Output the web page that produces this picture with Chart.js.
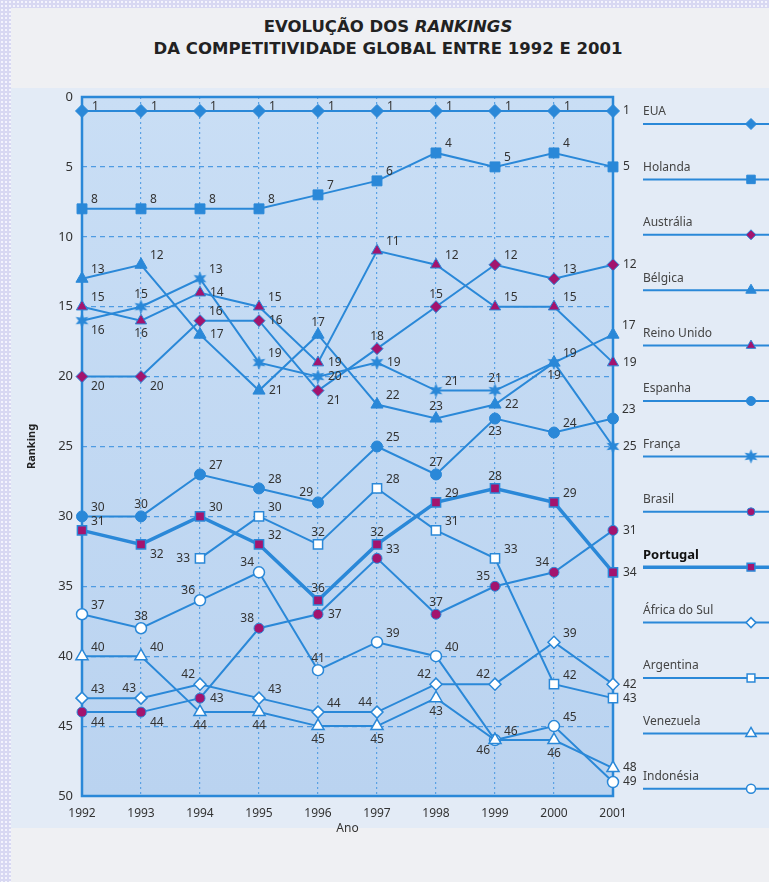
<!DOCTYPE html>
<html>
<head>
<meta charset="utf-8">
<script src="https://cdn.jsdelivr.net/npm/chart.js@4.4.0/dist/chart.umd.min.js"></script>
<style>
  html, body { margin: 0; padding: 0; }
  body {
    width: 769px; height: 882px; overflow: hidden; position: relative;
    background-color: #d8d8f2;
    background-image: radial-gradient(#f4f4fd 1px, transparent 1.3px);
    background-size: 4px 4px;
    font-family: "Noto Sans", sans-serif;
  }
  .page { position: absolute; left: 11px; top: 8px; right: 0; bottom: 0; background: #eff0f3; }
  .panel { position: absolute; left: 11px; top: 88px; right: 0; height: 740px; background: #e3ebf6; }
  h1 {
    position: absolute; top: 16px; left: 0; width: 776px; margin: 0;
    text-align: center; font-family: "DejaVu Sans", sans-serif;
    font-size: 16.5px; line-height: 22px; font-weight: bold; color: #222;
  }
  canvas { position: absolute; left: 0; top: 0; }
</style>
</head>
<body>
<div class="page"></div>
<div class="panel"></div>
<h1>EVOLUÇÃO DOS <i>RANKINGS</i><br>DA COMPETITIVIDADE GLOBAL ENTRE 1992 E 2001</h1>
<canvas id="rankChart" width="769" height="882"></canvas>
<script>
// dados (ranking por ano)
const anos = ['1992', '1993', '1994', '1995', '1996', '1997', '1998', '1999', '2000', '2001'];
const paises = ['EUA', 'Holanda', 'Austrália', 'Bélgica', 'Reino Unido', 'Espanha', 'França',
                'Brasil', 'Portugal', 'África do Sul', 'Argentina', 'Venezuela', 'Indonésia'];
const eua        = [1, 1, 1, 1, 1, 1, 1, 1, 1, 1];
const holanda    = [8, 8, 8, 8, 7, 6, 4, 5, 4, 5];
const australia  = [20, 20, 16, 16, 21, 18, 15, 12, 13, 12];
const belgica    = [13, 12, 17, 21, 17, 22, 23, 22, 19, 17];
const reinoUnido = [15, 16, 14, 15, 19, 11, 12, 15, 15, 19];
const espanha    = [30, 30, 27, 28, 29, 25, 27, 23, 24, 23];
const franca     = [16, 15, 13, 19, 20, 19, 21, 21, 19, 25];
const brasil     = [44, 44, 43, 38, 37, 33, 37, 35, 34, 31];
const portugal   = [31, 32, 30, 32, 36, 32, 29, 28, 29, 34];
const africaSul  = [43, 43, 42, 43, 44, 44, 42, 42, 39, 42];
const argentina  = [null, null, 33, 30, 32, 28, 31, 33, 42, 43];
const venezuela  = [40, 40, 44, 44, 45, 45, 43, 46, 46, 48];
const indonesia  = [37, 38, 36, 34, 41, 39, 40, 46, 45, 49];
const yTicks = [0, 5, 10, 15, 20, 25, 30, 35, 40, 45, 50];

const series = [eua, holanda, australia, belgica, reinoUnido, espanha, franca,
                brasil, portugal, africaSul, argentina, venezuela, indonesia];

const AZUL = '#2a88d8';
const MAGENTA = '#a3146e';

// estrela de 6 pontas para a França
function makeStar() {
    const c = document.createElement('canvas');
    c.width = 15; c.height = 15;
    const g = c.getContext('2d');
    g.fillStyle = AZUL;
    g.beginPath();
    for (let i = 0; i < 12; i++) {
        const r = i % 2 === 0 ? 7.3 : 3.4;
        const a = -Math.PI / 2 + i * Math.PI / 6;
        g.lineTo(7.5 + r * Math.cos(a), 7.5 + r * Math.sin(a));
    }
    g.closePath();
    g.fill();
    return c;
}
const star = makeStar();

// estilo dos marcadores
const estilos = [
    { ps: 'rectRot', r: 6.5, fill: AZUL, bw: 1 },
    { ps: 'rect', r: 7, fill: AZUL, bw: 1 },
    { ps: 'rectRot', r: 6, fill: MAGENTA, bw: 1 },
    { ps: 'triangle', r: 7, fill: AZUL, bw: 1 },
    { ps: 'triangle', r: 6.5, fill: MAGENTA, bw: 1 },
    { ps: 'circle', r: 5.5, fill: AZUL, bw: 1 },
    { ps: star, r: 7, fill: AZUL, bw: 0 },
    { ps: 'circle', r: 5, fill: MAGENTA, bw: 1 },
    { ps: 'rect', r: 6.5, fill: MAGENTA, bw: 1.5, lw: 3.5 },
    { ps: 'rectRot', r: 6, fill: '#ffffff', bw: 1.5 },
    { ps: 'rect', r: 6.5, fill: '#ffffff', bw: 1.5 },
    { ps: 'triangle', r: 7, fill: '#ffffff', bw: 1.5 },
    { ps: 'circle', r: 5.5, fill: '#ffffff', bw: 1.5 }
];

// posição dos rótulos de valor (ar = acima-direita, b = abaixo, l = esquerda ...)
const posRotulos = [
    ['ur','ur','ur','ur','ur','ur','ur','ur','ur','r'],
    ['ar','ar','ar','ar','ar','ar','ar','ar','ar','r'],
    ['br','br','ar','r','br','a','a','ar','ar','r'],
    ['ar','ar','r','r','a','ar','a','r','b','ar'],
    ['ar','b','r','ar','r','ar','ar','ar','ar','r'],
    ['ar','a','ar','ar','al','ar','a','b','ar','ar'],
    ['br','a','ar','ar','r','r','ar','a','ar','r'],
    ['br','br','r','al','r','ar','a','al','al','r'],
    ['ar','br','ar','ar','a','a','ar','a','ar','r'],
    ['ar','al','al','ar','ar','al','al','al','ar','r'],
    [null,null,'l','ar','a','ar','ar','ar','ar','r'],
    ['ar','ar','b','b','b','b','b','ar','b','r'],
    ['ar','a','al','al','a','ar','ar','bl','ar','r']
];
const offsets = {
    ur: [10, -4, 'left'],
    ar: [9, -9, 'left'], a: [0, -12, 'center'], al: [-5, -10, 'right'],
    r: [10, 0, 'left'], br: [9, 10, 'left'], b: [0, 13, 'center'],
    bl: [-5, 10, 'right'], l: [-10, 0, 'right']
};

// fundo da área do gráfico + moldura
const fundoPlugin = {
    id: 'fundo',
    beforeDraw(chart) {
        const { ctx, chartArea: a } = chart;
        const grad = ctx.createLinearGradient(0, a.top, 0, a.bottom);
        grad.addColorStop(0, '#c9def5');
        grad.addColorStop(1, '#bad3f0');
        ctx.save();
        ctx.fillStyle = grad;
        ctx.fillRect(a.left, a.top, a.right - a.left, a.bottom - a.top);
        ctx.restore();
    },
    beforeDatasetsDraw(chart) {
        const { ctx, chartArea: a } = chart;
        ctx.save();
        ctx.strokeStyle = AZUL;
        ctx.lineWidth = 2.5;
        ctx.strokeRect(a.left, a.top, a.right - a.left, a.bottom - a.top);
        ctx.restore();
    }
};

// números junto a cada ponto
const rotulosPlugin = {
    id: 'rotulos',
    afterDatasetsDraw(chart) {
        const ctx = chart.ctx;
        ctx.save();
        ctx.font = '12px "Noto Sans", sans-serif';
        ctx.fillStyle = '#333';
        ctx.textBaseline = 'middle';
        chart.data.datasets.forEach((ds, i) => {
            const meta = chart.getDatasetMeta(i);
            meta.data.forEach((pt, j) => {
                const v = ds.data[j];
                const code = posRotulos[i][j];
                if (v === null || !code) return;
                const [dx, dy, align] = offsets[code];
                ctx.textAlign = align;
                ctx.fillText(String(v), pt.x + dx, pt.y + dy);
            });
        });
        ctx.restore();
    }
};

// legenda à direita
const legendaPlugin = {
    id: 'legenda',
    afterDraw(chart) {
        const ctx = chart.ctx;
        ctx.save();
        chart.data.datasets.forEach((ds, i) => {
            const st = estilos[i];
            const y = 124 + i * 55.4;
            ctx.strokeStyle = AZUL;
            ctx.lineWidth = st.lw || 2;
            ctx.beginPath();
            ctx.moveTo(643, y);
            ctx.lineTo(769, y);
            ctx.stroke();
            ctx.fillStyle = st.fill;
            ctx.strokeStyle = AZUL;
            ctx.lineWidth = st.bw;
            Chart.helpers.drawPoint(ctx, { pointStyle: st.ps, radius: st.r - 1, rotation: 0, borderWidth: st.bw }, 751, y);
            const bold = ds.label === 'Portugal';
            ctx.font = (bold ? 'bold 13px' : '12px') + ' "Noto Sans", sans-serif';
            ctx.fillStyle = bold ? '#111' : '#444';
            ctx.textAlign = 'left';
            ctx.textBaseline = 'middle';
            ctx.fillText(ds.label, 643, y - 12);
        });
        ctx.restore();
    }
};

const datasets = series.map((vals, i) => ({
    label: paises[i],
    data: vals,
    borderColor: AZUL,
    borderWidth: estilos[i].lw || 2,
    pointStyle: estilos[i].ps,
    pointRadius: estilos[i].r,
    pointBackgroundColor: estilos[i].fill,
    pointBorderColor: AZUL,
    pointBorderWidth: estilos[i].bw,
    tension: 0,
    spanGaps: false
}));

const ctx = document.getElementById('rankChart').getContext('2d');
new Chart(ctx, {
    type: 'line',
    data: { labels: anos, datasets: datasets },
    plugins: [fundoPlugin, rotulosPlugin, legendaPlugin],
    options: {
        responsive: false,
        animation: false,
        layout: { padding: { left: 25, right: 156, top: 97, bottom: 46 } },
        plugins: {
            legend: { display: false },
            tooltip: { enabled: false }
        },
        scales: {
            x: {
                offset: false,
                afterFit(scale) { scale.height = 40; },
                grid: {
                    drawTicks: false,
                    lineWidth: 1.2,
                    color: (c) => (c.index === 0 || c.index === anos.length - 1) ? 'rgba(0,0,0,0)' : '#5aa2e4'
                },
                border: { display: false, dash: [2, 3] },
                ticks: { color: '#333', padding: 10, font: { size: 12, family: '"Noto Sans", sans-serif' } },
                title: { display: true, text: 'Ano', color: '#333', padding: 0, font: { size: 12, family: '"Noto Sans", sans-serif' } }
            },
            y: {
                reverse: true,
                min: 0,
                max: 50,
                afterFit(scale) { scale.width = 57; },
                afterBuildTicks(scale) { scale.ticks = yTicks.map(v => ({ value: v })); },
                grid: {
                    drawTicks: false,
                    lineWidth: 1.2,
                    color: (c) => (c.tick.value === 0 || c.tick.value === 50) ? 'rgba(0,0,0,0)' : '#4f9be2'
                },
                border: { display: false, dash: [5, 4] },
                ticks: { color: '#333', padding: 9, font: { size: 13, family: '"Noto Sans", sans-serif' } },
                title: { display: true, text: 'Ranking', color: '#222', padding: 0, font: { size: 11, weight: 'bold', family: '"Noto Sans", sans-serif' } }
            }
        }
    }
});
</script>
</body>
</html>
